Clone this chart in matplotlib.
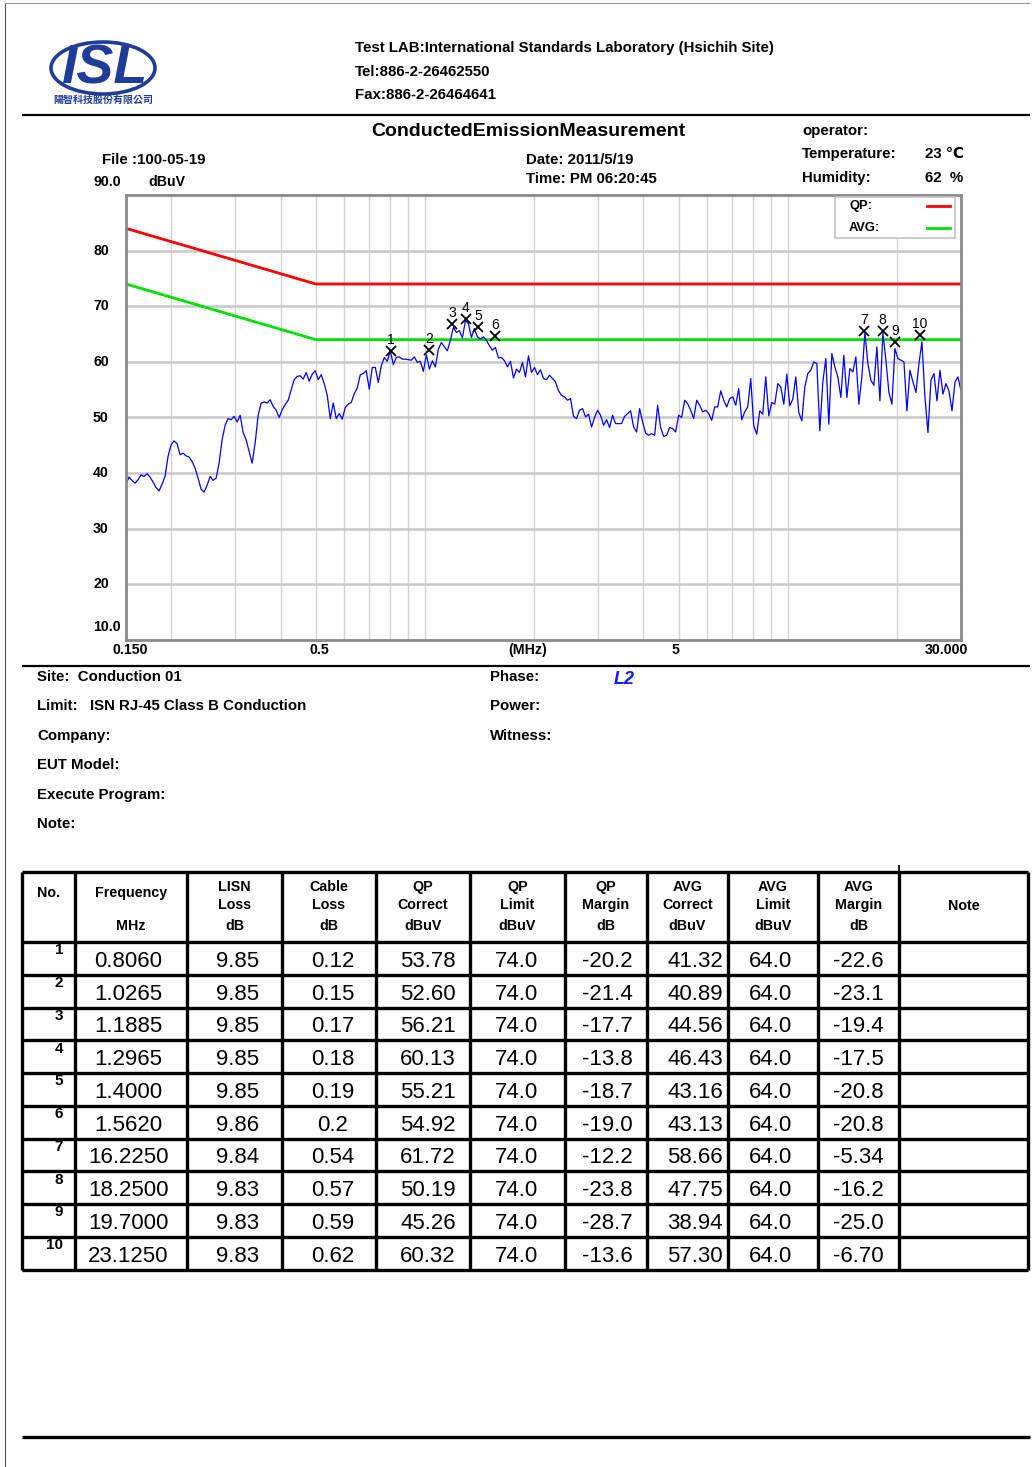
import numpy as np
import matplotlib
matplotlib.use('Agg')
import matplotlib.pyplot as plt
from matplotlib import transforms
from matplotlib.patches import Ellipse, Rectangle

plt.rcParams['font.family'] = ['Liberation Sans', 'DejaVu Sans']

# ---- data ----
# peak scan, equally spaced in log frequency from 0.15 to 30 MHz
trace_db = [
    38.0, 39.3, 38.7, 38.2, 38.8, 39.7, 39.4, 39.9, 39.3, 38.4, 37.4, 36.8, 38.0, 39.4,
    43.0, 45.1, 45.8, 45.3, 43.3, 43.6, 43.1, 42.9, 42.1, 40.9, 39.1, 37.1, 36.6, 37.8,
    39.4, 38.7, 39.1, 41.8, 46.0, 48.6, 49.8, 49.6, 50.2, 49.2, 50.4, 47.3, 46.0, 43.9,
    41.8, 45.4, 50.4, 52.6, 52.8, 52.6, 53.2, 52.0, 51.3, 50.0, 51.4, 52.3, 53.1, 55.0,
    56.8, 57.4, 57.5, 56.9, 58.1, 56.5, 57.8, 58.4, 56.8, 57.7, 56.1, 54.0, 49.8, 52.6, 49.8, 50.7,
    49.7, 51.8, 52.4, 52.7, 54.3, 55.3, 57.7, 57.9, 58.4, 55.1, 59.0, 59.0, 56.3, 59.3, 60.8, 60.1,
    62.0, 59.5, 60.8, 60.9, 60.5, 60.5, 60.4, 60.3, 60.9, 59.9, 60.1, 58.3, 61.3, 58.7, 60.2, 59.1,
    62.3, 63.5, 62.7, 62.0, 63.9, 66.2, 65.3, 65.6, 64.3, 67.4, 66.9, 64.4, 66.0, 64.5, 64.1, 64.5,
    63.9, 62.9, 62.1, 62.6, 60.7, 60.8, 60.2, 59.1, 60.1, 57.1, 58.7, 58.1, 59.9, 57.3, 61.1, 58.1, 59.0, 57.7,
    58.6, 57.0, 56.8, 57.6, 57.0, 56.4, 54.8, 54.0, 53.7, 53.1, 53.4, 50.2, 49.8, 51.3, 51.6, 50.1,
    50.6, 48.3, 50.0, 51.3, 50.4, 48.6, 49.6, 48.2, 50.4, 48.9, 48.9, 48.9, 50.2, 50.7, 51.2, 48.3,
    47.4, 51.6, 49.2, 47.2, 46.8, 47.1, 46.8, 52.2, 48.2, 46.6, 46.8, 48.2, 48.0, 47.4, 50.4, 50.0,
    53.1, 52.5, 51.3, 49.8, 53.1, 52.2, 51.0, 51.3, 50.7, 49.5, 51.9, 51.9, 54.8, 53.1, 51.9, 53.4,
    53.7, 52.2, 55.2, 49.6, 51.0, 51.9,
    57.0, 48.5, 47.0, 51.2, 50.6, 57.3, 50.3, 52.7, 52.4, 56.1, 55.5, 52.4, 57.8, 52.1, 53.3, 57.3,
    50.9, 49.4, 55.5, 57.9, 58.5, 60.0, 59.7, 47.6, 56.4, 60.6, 48.8, 61.5, 59.1, 57.3, 53.6, 61.2,
    53.6, 58.8, 58.2, 60.9, 52.4, 57.3, 65.2, 59.7, 56.7, 55.8, 62.7, 53.0, 65.2, 60.3, 54.5, 52.4,
    62.4, 60.6, 60.3, 60.0, 51.2, 58.5, 56.4, 54.5, 59.7, 63.6, 53.6, 47.3, 56.7, 57.9, 53.0, 58.5,
    54.2, 56.1, 54.8, 51.2, 56.4, 57.3, 54.8,
]
freq = np.geomspace(0.15, 30, len(trace_db))

limit_freq = [0.15, 0.5, 30]
qp_limit = [84, 74, 74]
avg_limit = [74, 64, 64]

mk_no = list(range(1, 11))
mk_freq = [0.8060, 1.0265, 1.1885, 1.2965, 1.4000, 1.5620, 16.2250, 18.2500, 19.7000, 23.1250]
mk_level = [62.0, 62.1, 66.8, 67.7, 66.3, 64.7, 65.5, 65.5, 63.6, 64.8]

grid_freq = [0.2, 0.3, 0.4, 0.5, 0.6, 0.7, 0.8, 0.9, 1, 2, 3, 4, 5, 6, 7, 8, 9, 10, 20]
y_ticks = [10, 20, 30, 40, 50, 60, 70, 80, 90]
y_labels = ['10.0', '20', '30', '40', '50', '60', '70', '80', '90.0']
x_ticks = [0.15, 0.5, 5, 30]
x_labels = ['0.150', '0.5', '5', '30.000']

col_freq = ['0.8060', '1.0265', '1.1885', '1.2965', '1.4000', '1.5620', '16.2250', '18.2500', '19.7000', '23.1250']
col_lisn = ['9.85', '9.85', '9.85', '9.85', '9.85', '9.86', '9.84', '9.83', '9.83', '9.83']
col_cable = ['0.12', '0.15', '0.17', '0.18', '0.19', '0.2', '0.54', '0.57', '0.59', '0.62']
col_qp = ['53.78', '52.60', '56.21', '60.13', '55.21', '54.92', '61.72', '50.19', '45.26', '60.32']
col_qp_lim = ['74.0'] * 10
col_qp_mar = ['-20.2', '-21.4', '-17.7', '-13.8', '-18.7', '-19.0', '-12.2', '-23.8', '-28.7', '-13.6']
col_avg = ['41.32', '40.89', '44.56', '46.43', '43.16', '43.13', '58.66', '47.75', '38.94', '57.30']
col_avg_lim = ['64.0'] * 10
col_avg_mar = ['-22.6', '-23.1', '-19.4', '-17.5', '-20.8', '-20.8', '-5.34', '-16.2', '-25.0', '-6.70']

headers = [['No.'], ['Frequency', '', 'MHz'], ['LISN', 'Loss', 'dB'], ['Cable', 'Loss', 'dB'],
           ['QP', 'Correct', 'dBuV'], ['QP', 'Limit', 'dBuV'], ['QP', 'Margin', 'dB'],
           ['AVG', 'Correct', 'dBuV'], ['AVG', 'Limit', 'dBuV'], ['AVG', 'Margin', 'dB'], ['Note']]

FS = 10.8  # body text size

# ---- page ----
W, H = 1032, 1467
fig = plt.figure(figsize=(W / 100, H / 100), dpi=100)
page = fig.add_axes([0, 0, 1, 1])
page.set_xlim(0, W)
page.set_ylim(H, 0)
page.axis('off')


def hline(y, x0=22, x1=1030, lw=1.6, color='black'):
    page.plot([x0, x1], [y, y], color=color, lw=lw, solid_capstyle='butt')


def vline(x, y0, y1, lw=1.6, color='black'):
    page.plot([x, x], [y0, y1], color=color, lw=lw, solid_capstyle='butt')


def txt(x, y, s, size=FS, weight='bold', **kw):
    page.text(x, y, s, fontsize=size, fontweight=weight, va='center', **kw)


# page border
vline(5, 3, H, lw=0.8, color='#555555')
hline(3, 5, 1030, lw=0.8, color='#999999')

# logo
logo_blue = '#1f3d98'
page.add_patch(Ellipse((103, 68), 104, 52, fill=False, ec=logo_blue, lw=2.6))
page.text(104, 69, 'ISL', color=logo_blue, fontsize=40, fontweight='bold', fontstyle='italic',
          ha='center', va='center')
clip = Ellipse((103, 68), 96, 44, transform=page.transData)
for ys in range(50, 90, 5):
    ln, = page.plot([55, 152], [ys, ys], color='white', lw=1.1)
    ln.set_clip_path(clip)
page.text(103, 100, '陽智科技股份有限公司', color=logo_blue, fontsize=7.2, fontweight='bold',
          ha='center', va='center', family=['Noto Sans CJK TC', 'DejaVu Sans'])

txt(355, 48, 'Test LAB:International Standards Laboratory (Hsichih Site)')
txt(355, 72, 'Tel:886-2-26462550')
txt(355, 95, 'Fax:886-2-26464641')
hline(115)

txt(528, 132, 'ConductedEmissionMeasurement', 14, ha='center')
txt(802, 131, 'operator:')
txt(802, 154, 'Temperature:')
txt(925, 154, '23 ℃')
txt(802, 178, 'Humidity:')
txt(925, 178, '62  %')
txt(102, 160, 'File :100-05-19')
txt(526, 160, 'Date: 2011/5/19')
txt(526, 179, 'Time: PM 06:20:45')
txt(148, 182, 'dBuV', 10.2)

# ---- chart ----
L, R, T, B = 126, 961, 195, 640
ax = fig.add_axes([L / W, 1 - B / H, (R - L) / W, (B - T) / H])
ax.set_xscale('log')
ax.set_xlim(0.15, 30)
ax.set_ylim(10, 90)
ax.set_xticks(grid_freq)
ax.xaxis.set_minor_locator(matplotlib.ticker.NullLocator())
ax.set_yticks(y_ticks[1:-1])
ax.tick_params(length=0, labelbottom=False, labelleft=False)
ax.grid(axis='x', color='#d2d2d2', lw=1.0)
ax.grid(axis='y', color='#c8c8c8', lw=1.8)
for sp in ax.spines.values():
    sp.set_color('#8a8a8a')
    sp.set_linewidth(2)

ax.plot(limit_freq, qp_limit, color='#ff0000', lw=2)
ax.plot(limit_freq, avg_limit, color='#00e000', lw=2)
ax.plot(freq, trace_db, color='#0000ff', lw=0.9)
ax.plot(mk_freq, mk_level, ls='none', marker='x', ms=6.5, mew=1.3, color='black')
up = transforms.offset_copy(ax.transData, fig=fig, x=0, y=11, units='dots')
for n, f, v in zip(mk_no, mk_freq, mk_level):
    ax.text(f, v, str(n), transform=up, ha='center', va='center', fontsize=10)

ylab_tr = transforms.blended_transform_factory(fig.transFigure, ax.transData)
for v, s in zip(y_ticks, y_labels):
    dy = 13 if v in (10, 90) else 0
    tr = ylab_tr + transforms.ScaledTranslation(0, dy / 100, fig.dpi_scale_trans)
    ax.text(93 / W, v, s, transform=tr, ha='left', va='center', fontsize=10.2, fontweight='bold')
xlab_tr = transforms.blended_transform_factory(ax.transData, fig.transFigure)
for f, s, dx in zip(x_ticks, x_labels, [4, 4, -3, -15]):
    tr = xlab_tr + transforms.ScaledTranslation(dx / 100, 0, fig.dpi_scale_trans)
    ax.text(f, 1 - 650 / H, s, transform=tr, ha='center', va='center', fontsize=10.2, fontweight='bold')
txt(528, 650, '(MHz)', 10.2, ha='center')

# legend box on top of the chart
over = fig.add_axes([0, 0, 1, 1])
over.set_xlim(0, W)
over.set_ylim(H, 0)
over.axis('off')
over.add_patch(Rectangle((835, 197), 120, 41, fc='white', ec='#c4c4c4', lw=1.2))
over.text(849, 206, 'QP:', fontsize=9.3, fontweight='bold', va='center')
over.text(849, 228, 'AVG:', fontsize=9.3, fontweight='bold', va='center')
over.plot([927, 950], [206, 206], color='#ff0000', lw=2)
over.plot([927, 950], [228, 228], color='#00e000', lw=2)

# ---- info block ----
hline(666)
txt(37, 677, 'Site:  Conduction 01')
txt(37, 706, 'Limit:   ISN RJ-45 Class B Conduction')
txt(37, 736, 'Company:')
txt(37, 765, 'EUT Model:')
txt(37, 795, 'Execute Program:')
txt(37, 824, 'Note:')
txt(490, 677, 'Phase:')
txt(490, 706, 'Power:')
txt(490, 736, 'Witness:')
page.text(614, 679, 'L2', fontsize=13, fontweight='bold', fontstyle='italic', color='#1a1aff', va='center')

# ---- result table ----
col_x = [22, 75, 187, 282, 376, 470, 565, 647, 728, 818, 899, 1028]
row_y = [872, 942] + [942 + 32.75 * (k + 1) for k in range(10)]
for x in col_x:
    vline(x, row_y[0], row_y[-1], lw=2.4)
vline(899, 865, 872, lw=1.2)
for y in row_y:
    hline(y, col_x[0], col_x[-1], lw=2.4)

for c, lines in enumerate(headers):
    cx = (col_x[c] + col_x[c + 1]) / 2
    if len(lines) == 1:
        yy = [893] if c == 0 else [906]
    else:
        yy = [887, 905, 926] if lines[1] else [893, 0, 926]
    for s, y in zip(lines, yy):
        if s:
            txt(cx, y, s, 10.3, ha='center')

columns = [col_freq, col_lisn, col_cable, col_qp, col_qp_lim, col_qp_mar,
           col_avg, col_avg_lim, col_avg_mar]
col_cx = [128, 238, 333, 428, 516, 607, 695, 770, 858]
for r in range(10):
    yc = (row_y[r + 1] + row_y[r + 2]) / 2 + 3
    page.text(63, (row_y[r + 1] + row_y[r + 2]) / 2 - 8, str(mk_no[r]), fontsize=11,
              fontweight='bold', ha='right', va='center')
    for cx, col in zip(col_cx, columns):
        page.text(cx, yc, col[r], fontsize=16, ha='center', va='center')

hline(1437, lw=2.4)

fig.savefig('out.png', dpi=100)
